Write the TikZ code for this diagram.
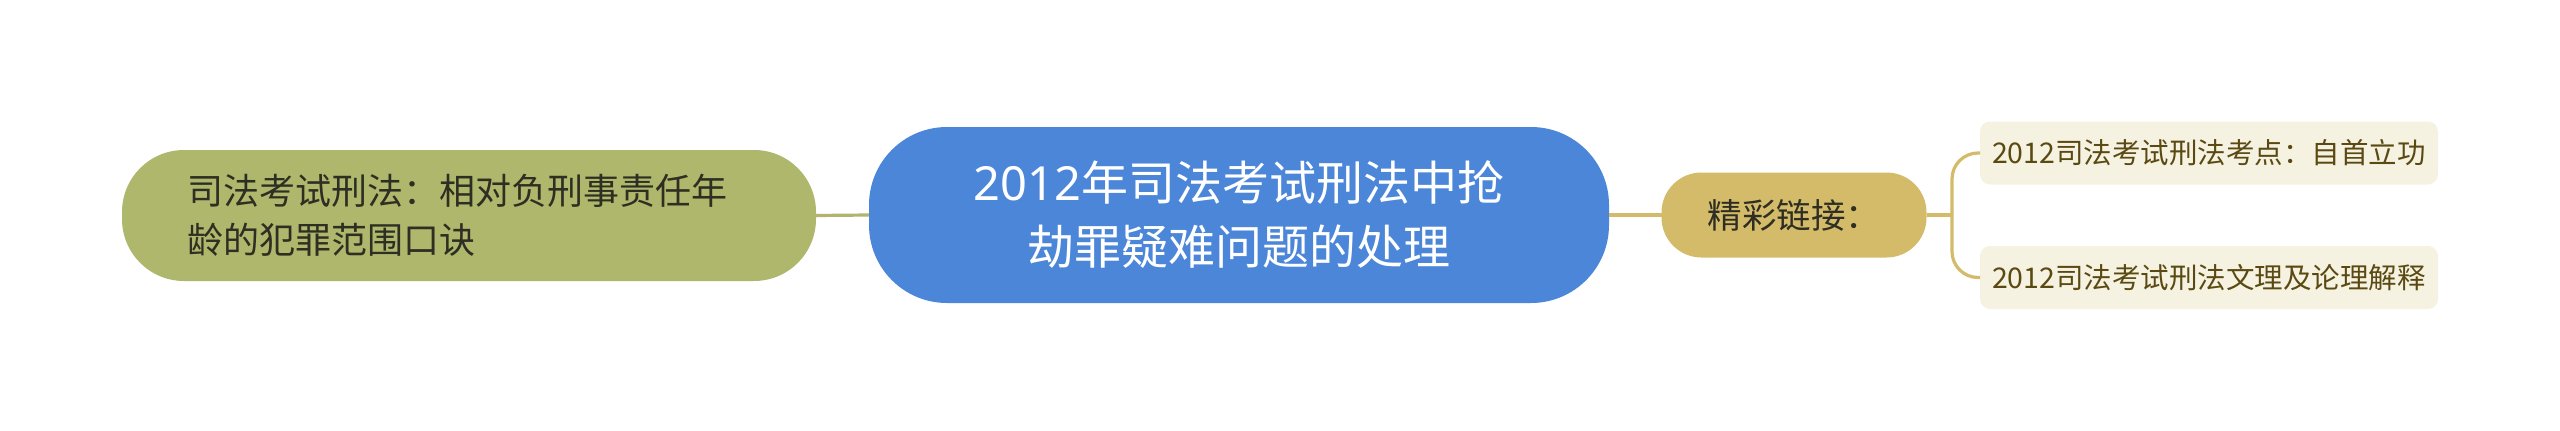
\documentclass[tikz,border=0pt]{standalone}
\usepackage{fontspec}
\setmainfont{Noto Sans CJK SC}
\newfontfamily\latinfont{Noto Sans}
\definecolor{cblue}{HTML}{4B86D9}
\definecolor{colive}{HTML}{AFB76C}
\definecolor{cgold}{HTML}{D3BB6A}
\definecolor{cleaf}{HTML}{F6F2E2}
\definecolor{cleaftext}{HTML}{5A4A12}
\definecolor{cdark}{HTML}{2E2E22}
\definecolor{clineL}{HTML}{B2B46E}
\begin{document}
\begin{tikzpicture}[x=1pt,y=-1pt,
  box/.style={inner sep=0pt,outer sep=0pt},
  rootbox/.style={box,fill=cblue,rounded corners=78pt,minimum width=740pt,minimum height=176pt,
    text=white,align=center,font=\fontsize{47}{64}\selectfont},
  leftbox/.style={box,fill=colive,rounded corners=62pt,minimum width=694pt,minimum height=131pt,
    text=cdark,align=left,text width=564pt,font=\fontsize{36}{49.5}\selectfont},
  midbox/.style={box,fill=cgold,rounded corners=40pt,minimum width=265pt,minimum height=85pt,
    text=cdark,align=center,font=\fontsize{34.5}{40}\selectfont},
  leafbox/.style={box,fill=cleaf,rounded corners=10pt,minimum width=458pt,minimum height=63pt,
    text=cleaftext,align=left,text width=434pt,font=\fontsize{28.5}{34}\selectfont},
  linkL/.style={draw=clineL,line width=3.2pt},
  linkR/.style={draw=cgold,line width=3.2pt}]
\useasboundingbox[fill=white] (0,0) rectangle (2560,431);
\node[rootbox] (root) at (1239,215) {{\latinfont 2012}年司法考试刑法中抢\\劫罪疑难问题的处理};
\node[leftbox] (left) at (469,215.5) {司法考试刑法：相对负刑事责任年\\龄的犯罪范围口诀};
\node[midbox] (mid) at (1794,215) {精彩链接：};
\node[leafbox] (leafA) at (2209,153) {2012司法考试刑法考点：自首立功};
\node[leafbox] (leafB) at (2209,277.5) {2012司法考试刑法文理及论理解释};
\coordinate (fork) at (1952,215);
\draw[linkL] (left.east) -- (root.west);
\draw[linkR] (root.east) -- (mid.west);
\draw[linkR] (mid.east) -- (fork);
\draw[linkR,rounded corners=26pt] (fork) |- (leafA.west);
\draw[linkR,rounded corners=26pt] (fork) |- (leafB.west);
\end{tikzpicture}
\end{document}
